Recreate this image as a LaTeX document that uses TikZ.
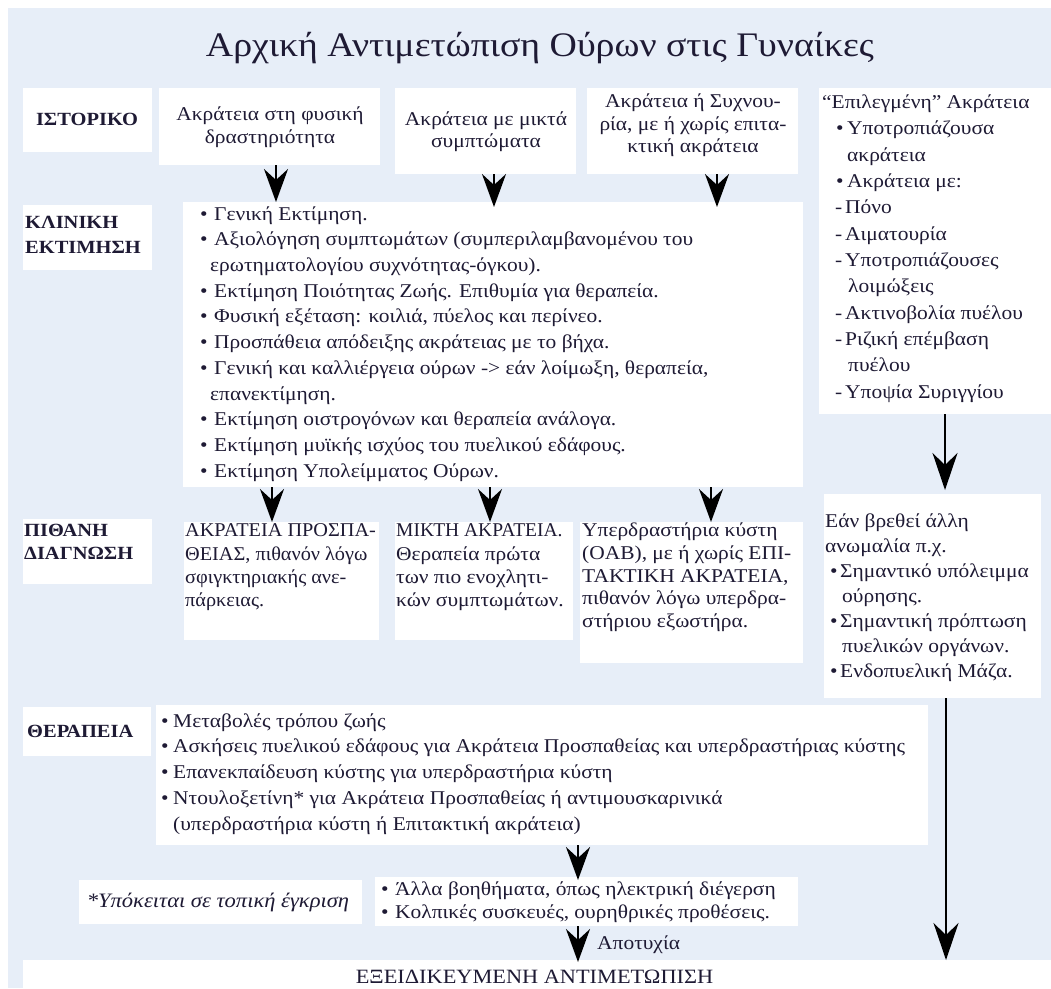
\documentclass[tikz,border=0pt]{standalone}
\usepackage{fontspec}
\setmainfont{Liberation Serif}[FakeStretch=1.1]
\newfontfamily\dfont{Liberation Serif}[FakeStretch=1.04]
\newfontfamily\pfont{Liberation Serif}
\usetikzlibrary{arrows.meta}
\definecolor{bgblue}{RGB}{231,238,248}
\definecolor{ink}{RGB}{30,26,52}
\newcommand{\bux}[1]{\strut\makebox[#1][l]{•}}
\newcommand{\cnx}[1]{\strut\hspace*{#1}}
\newcommand{\dsh}{\strut\makebox[10pt][l]{-}}
\begin{document}
\begin{tikzpicture}[x=1pt,y=-1pt,
  panel/.style={fill=white, draw=none, inner sep=0pt, outer sep=0pt, anchor=north west},
  body/.style={inner sep=0pt, text=ink, align=left, anchor=west, font=\fontsize{19.5}{#1}\selectfont},
  body/.default=25,
  cbody/.style={inner sep=0pt, text=ink, align=center, font=\fontsize{19.5}{#1}\selectfont},
  cbody/.default=24,
  lab/.style={inner sep=0pt, text=ink, align=left, anchor=west, font=\fontsize{18.6}{#1}\selectfont\bfseries},
  lab/.default=25,
  arr/.style={draw=black, line width=2pt, -{Stealth[length=33pt,width=24pt,inset=11pt]}},
  tarr/.style={draw=black, line width=1.8pt, -{Stealth[length=37pt,width=25pt,inset=12pt]}}
]
\useasboundingbox (0,0) rectangle (1051,988);
\fill[white] (0,0) rectangle (1051,988);
\fill[bgblue] (8,8) rectangle (1051,988);

% title
\node[text=ink, inner sep=0pt, font=\fontsize{34.4}{40}\selectfont] (title) at (540,48) {Αρχική Αντιμετώπιση Ούρων στις Γυναίκες};

% panels
\node[panel, minimum width=129pt, minimum height=64pt] (L1) at (23,88) {};
\node[panel, minimum width=221pt, minimum height=77pt] (H1) at (159,88) {};
\node[panel, minimum width=181pt, minimum height=86pt] (H2) at (395,88) {};
\node[panel, minimum width=211pt, minimum height=86pt] (H3) at (587,88) {};
\node[panel, minimum width=232pt, minimum height=326pt] (R1) at (819,88) {};
\node[panel, minimum width=129pt, minimum height=65pt] (L2) at (23,205) {};
\node[panel, minimum width=620pt, minimum height=285pt] (C) at (183,202) {};
\node[panel, minimum width=129pt, minimum height=65pt] (L3) at (23,519) {};
\node[panel, minimum width=195pt, minimum height=118pt] (D1) at (184,522) {};
\node[panel, minimum width=178pt, minimum height=118pt] (D2) at (395,522) {};
\node[panel, minimum width=223pt, minimum height=141pt] (D3) at (580,522) {};
\node[panel, minimum width=217pt, minimum height=204pt] (R2) at (824,494) {};
\node[panel, minimum width=128pt, minimum height=49pt] (L4) at (23,707) {};
\node[panel, minimum width=772pt, minimum height=140pt] (T) at (156,705) {};
\node[panel, minimum width=283pt, minimum height=44pt] (F) at (79,880) {};
\node[panel, minimum width=423pt, minimum height=49pt] (A) at (375,877) {};
\node[panel, minimum width=1028pt, minimum height=40pt] (E) at (23,960) {};

% texts
\node[lab, anchor=center] (L1t) at (87,119) {ΙΣΤΟΡΙΚΟ};
\node[cbody=23] (H1t) at (270,127.5) {\strut Ακράτεια στη φυσική\\\strut δραστηριότητα};
\node[cbody=22.5] (H2t) at (486,132) {\strut Ακράτεια με μικτά\\\strut συμπτώματα};
\node[cbody=22.5] (H3t) at (693,125.5) {\strut Ακράτεια ή Συχνου-\\\strut ρία, με ή χωρίς επιτα-\\\strut κτική ακράτεια};
\node[body=26.36] (R1t) at (822,248) {%
\strut “Επιλεγμένη” Ακράτεια\\
\hspace*{14pt}\bux{11pt}Υποτροπιάζουσα\\
\hspace*{14pt}\cnx{11pt}ακράτεια\\
\hspace*{14pt}\bux{11pt}Ακράτεια με:\\
\hspace*{13pt}\dsh Πόνο\\
\hspace*{13pt}\dsh Αιματουρία\\
\hspace*{13pt}\dsh Υποτροπιάζουσες\\
\hspace*{13pt}\cnx{13pt}λοιμώξεις\\
\hspace*{13pt}\dsh Ακτινοβολία πυέλου\\
\hspace*{13pt}\dsh Ριζική επέμβαση\\
\hspace*{13pt}\cnx{13pt}πυέλου\\
\hspace*{13pt}\dsh Υποψία Συριγγίου};
\node[lab=25] (L2t) at (25,236) {\strut ΚΛΙΝΙΚΗ\\\strut ΕΚΤΙΜΗΣΗ};
\node[body=25.7] (Ct) at (200,343.5) {%
\bux{14pt}Γενική Εκτίμηση.\\
\bux{14pt}Αξιολόγηση συμπτωμάτων (συμπεριλαμβανομένου του\\
\cnx{10pt}ερωτηματολογίου συχνότητας-όγκου).\\
\bux{14pt}Εκτίμηση Ποιότητας Ζωής. Επιθυμία για θεραπεία.\\
\bux{14pt}Φυσική εξέταση: κοιλιά, πύελος και περίνεο.\\
\bux{14pt}Προσπάθεια απόδειξης ακράτειας με το βήχα.\\
\bux{14pt}Γενική και καλλιέργεια ούρων -{}> εάν λοίμωξη, θεραπεία,\\
\cnx{10pt}επανεκτίμηση.\\
\bux{14pt}Εκτίμηση οιστρογόνων και θεραπεία ανάλογα.\\
\bux{14pt}Εκτίμηση μυϊκής ισχύος του πυελικού εδάφους.\\
\bux{14pt}Εκτίμηση Υπολείμματος Ούρων.};
\node[lab=23] (L3t) at (24,543.5) {\strut ΠΙΘΑΝΗ\\\strut ΔΙΑΓΝΩΣΗ};
\node[body=23.3, font=\dfont\fontsize{19.5}{23.3}\selectfont] (D1t) at (185,567) {\strut ΑΚΡΑΤΕΙΑ ΠΡΟΣΠΑ-\\\strut ΘΕΙΑΣ, πιθανόν λόγω\\\strut σφιγκτηριακής ανε-\\\strut πάρκειας.};
\node[body=23.3] (D2t) at (396,567) {\strut{\pfont ΜΙΚΤΗ ΑΚΡΑΤΕΙΑ.}\\\strut Θεραπεία πρώτα\\\strut των πιο ενοχλητι-\\\strut κών συμπτωμάτων.};
\node[body=22.75] (D3t) at (582,577.5) {\strut Υπερδραστήρια κύστη\\\strut (OAB), με ή χωρίς ΕΠΙ-\\\strut ΤΑΚΤΙΚΗ ΑΚΡΑΤΕΙΑ,\\\strut πιθανόν λόγω υπερδρα-\\\strut στήριου εξωστήρα.};
\node[body=25] (R2t) at (825,597) {%
\strut Εάν βρεθεί άλλη\\
\strut ανωμαλία π.χ.\\
\hspace*{5pt}\bux{10pt}Σημαντικό υπόλειμμα\\
\hspace*{5pt}\cnx{12pt}ούρησης.\\
\hspace*{5pt}\bux{10pt}Σημαντική πρόπτωση\\
\hspace*{5pt}\cnx{12pt}πυελικών οργάνων.\\
\hspace*{5pt}\bux{10pt}Ενδοπυελική Μάζα.};
\node[lab] (L4t) at (27,731) {ΘΕΡΑΠΕΙΑ};
\node[body=25.75] (Tt) at (161,773.5) {%
\bux{12pt}Μεταβολές τρόπου ζωής\\
\bux{12pt}Ασκήσεις πυελικού εδάφους για Ακράτεια Προσπαθείας και υπερδραστήριας κύστης\\
\bux{12pt}Επανεκπαίδευση κύστης για υπερδραστήρια κύστη\\
\bux{12pt}Ντουλοξετίνη* για Ακράτεια Προσπαθείας ή αντιμουσκαρινικά\\
\cnx{12pt}(υπερδραστήρια κύστη ή Επιτακτική ακράτεια)};
\node[cbody, font=\fontsize{20.5}{24}\selectfont\itshape] (Ft) at (218,902) {*Υπόκειται σε τοπική έγκριση};
\node[body=23] (At) at (381,902.5) {%
\bux{14pt}Άλλα βοηθήματα, όπως ηλεκτρική διέγερση\\
\bux{14pt}Κολπικές συσκευές, ουρηθρικές προθέσεις.};
\node[cbody, font=\fontsize{20.3}{22}\selectfont] (Et) at (534.5,977) {ΕΞΕΙΔΙΚΕΥΜΕΝΗ ΑΝΤΙΜΕΤΩΠΙΣΗ};

% arrow coordinates
\coordinate (a1) at ([xshift=6.5pt]H1.south);
\coordinate (a2) at ([xshift=8.5pt]H2.south);
\coordinate (a3) at ([xshift=24.5pt]H3.south);
\coordinate (b1) at ([xshift=-9.5pt]D1.north);
\coordinate (b2) at ([xshift=6pt]D2.north);
\coordinate (b3) at ([xshift=19.5pt]D3.north);
\coordinate (c1) at ([xshift=12.5pt]R2.north);
\coordinate (c2) at ([xshift=13.5pt]R2.south);
\coordinate (d1) at ([xshift=-8.5pt]A.north);
\coordinate (d2) at ([xshift=-8.5pt]A.south);

\draw[arr] (a1) -- (a1 |- C.north);
\draw[arr] (a2) -- ([yshift=-5pt]a2 |- C.north);
\draw[arr] (a3) -- ([yshift=-5pt]a3 |- C.north);
\draw[arr] (b1 |- C.south) -- (b1);
\draw[arr] (b2 |- C.south) -- (b2);
\draw[arr] (b3 |- C.south) -- (b3);
\draw[tarr] (c1 |- R1.south) -- ([yshift=4pt]c1);
\draw[tarr] (c2) -- (c2 |- E.north);
\draw[arr] (d1 |- T.south) -- ([yshift=-3pt]d1);
\draw[arr] (d2) -- ([yshift=-2pt]d2 |- E.north);
\node[inner sep=0pt, anchor=west, text=ink, font=\fontsize{19.5}{22}\selectfont] (fail) at (597,945) {Αποτυχία};
\end{tikzpicture}
\end{document}
